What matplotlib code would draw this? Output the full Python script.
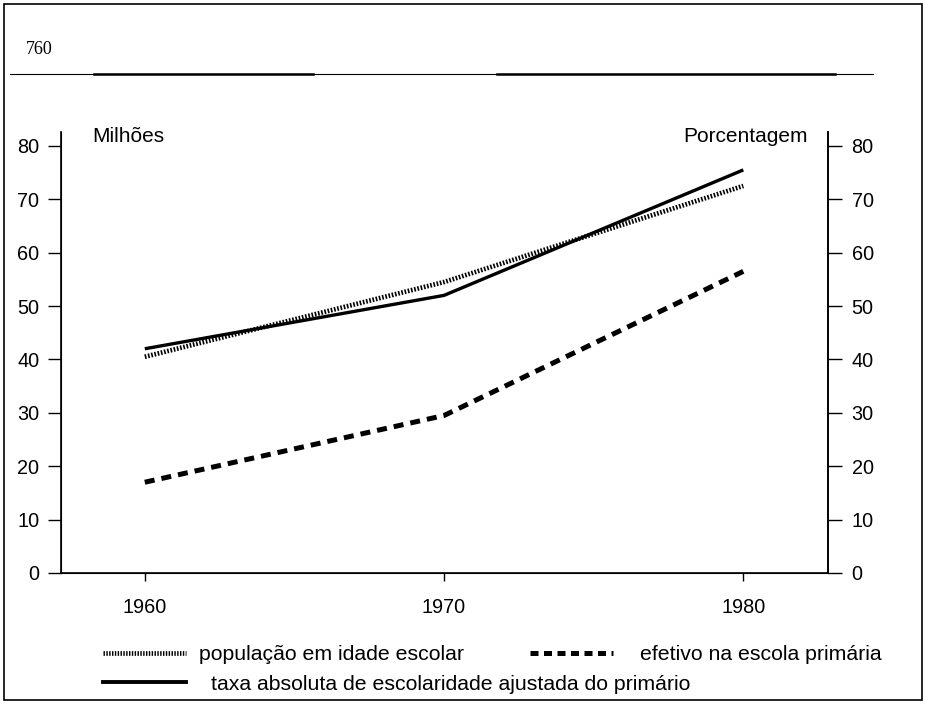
import matplotlib
matplotlib.use("Agg")
import matplotlib.pyplot as plt
from matplotlib.lines import Line2D
from matplotlib.patches import Rectangle

plt.rcParams['font.family'] = ['Liberation Sans', 'DejaVu Sans']

# dados
anos = [1960, 1970, 1980]
populacao = [40.5, 54.5, 72.5]   # populacao em idade escolar (milhoes)
efetivo = [17.0, 29.5, 56.5]     # efetivo na escola primaria (milhoes)
taxa = [42.0, 52.0, 75.5]        # taxa absoluta de escolaridade (%)
yticks = [0, 10, 20, 30, 40, 50, 60, 70, 80]
nomes = ["população em idade escolar",
         "efetivo na escola primária",
         "taxa absoluta de escolaridade ajustada do primário"]

W, H = 925, 704
fig = plt.figure(figsize=(W / 100, H / 100), dpi=100)

def fx(px):
    return px / W

def fy(py):
    return 1 - py / H

# moldura e cabecalho da pagina
fig.patches.append(Rectangle((fx(4), fy(700)), fx(918), 696 / H, transform=fig.transFigure,
                             fill=False, lw=1.2, ec='black'))
fig.text(fx(26), fy(50), "760", family='Liberation Serif', fontsize=13, va='center', ha='left')
fig.add_artist(Line2D([fx(10), fx(873)], [fy(74), fy(74)], transform=fig.transFigure, lw=0.8, color='black'))
fig.add_artist(Line2D([fx(94), fx(313)], [fy(74), fy(74)], transform=fig.transFigure, lw=1.8, color='black'))
fig.add_artist(Line2D([fx(497), fx(835)], [fy(74), fy(74)], transform=fig.transFigure, lw=1.8, color='black'))

ax = fig.add_axes([fx(61), fy(573), fx(828 - 61), (573 - 132) / H])
ax.plot(anos, taxa, color='black', lw=2.4, solid_capstyle='butt')
ax.plot(anos, populacao, color='black', lw=3.4, linestyle=(0, (0.35, 0.35)))
ax.plot(anos, efetivo, color='black', lw=3.6, linestyle=(0, (2.0, 1.4)))

ax.set_xlim(1957.2, 1982.83)
ax.set_ylim(0, 82.6)
ax.set_xticks(anos)
ax.set_yticks(yticks)
ax.spines['top'].set_visible(False)
ax.spines['right'].set_visible(True)
for s in ['left', 'right', 'bottom']:
    ax.spines[s].set_linewidth(1.2)
ax.tick_params(axis='y', direction='out', length=9.5, width=1, pad=6, labelsize=14.3)
ax.tick_params(axis='x', direction='out', length=6, width=1, pad=12, labelsize=14.3)

ax2 = ax.twinx()
ax2.set_ylim(0, 82.6)
ax2.set_yticks(yticks)
ax2.spines['top'].set_visible(False)
ax2.spines['right'].set_linewidth(1.2)
ax2.tick_params(axis='y', direction='out', length=10, width=1, pad=7, labelsize=14.3)

fig.text(fx(92), fy(136), "Milhões", fontsize=15, va='center', ha='left')
fig.text(fx(808), fy(136), "Porcentagem", fontsize=15, va='center', ha='right')

# legenda
h_pop = Line2D([], [], color='black', lw=3.4, linestyle=(0, (0.3, 0.3)))
h_ef = Line2D([], [], color='black', lw=3.6, linestyle=(0, (1.6, 1.1)))
h_tx = Line2D([], [], color='black', lw=2.8)
itens = [(h_pop, nomes[0], 103, 655, 0.6),
         (h_ef, nomes[1], 530, 655, 1.27),
         (h_tx, nomes[2], 103, 684, 1.17)]
for h, nome, x0, y0, pad in itens:
    fig.legend([h], [nome], loc='center left', bbox_to_anchor=(fx(x0), fy(y0)),
               frameon=False, fontsize=15.3, handlelength=3.9, handletextpad=pad,
               borderpad=0, borderaxespad=0)

fig.savefig("out.png", dpi=100)
